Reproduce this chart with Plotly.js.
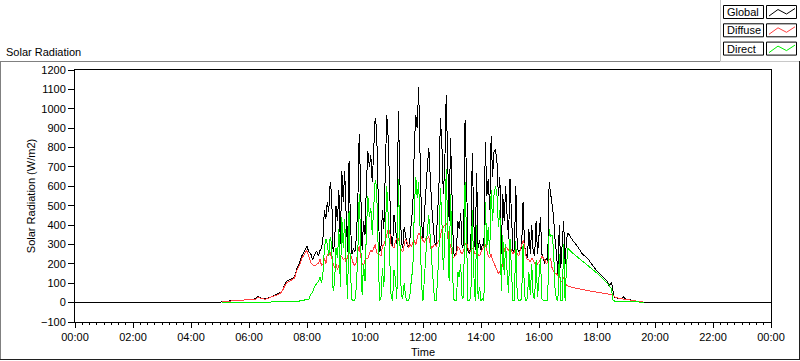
<!DOCTYPE html>
<html>
<head>
<meta charset="utf-8">
<script src="https://cdn.plot.ly/plotly-3.0.1.min.js"></script>
<style>
html,body{margin:0;padding:0;background:#fff;}
#chart{width:800px;height:361px;}
#chart .scatterlayer path.js-line{shape-rendering:crispEdges;}
</style>
</head>
<body>
<div id="chart"></div>
<script>
// ---- data (minutes of day, W/m2) ----
const morningMin = [305,320,335,350,365,374,379,385,395,405,412,420,427,432,437,442,448,454,459,464,469,473,477,480,484,488,492,496,500,504,507];
const dayMin = [510,513,516,519,522,525,528,531,534,537,540,543,546,549,552,555,558,561,564,567,570,573,576,579,582,585,588,591,594,597,600,603,606,609,612,615,618,621,624,627,630,633,636,639,642,645,648,651,
654,657,660,663,666,669,672,675,678,681,684,687,690,693,696,699,702,705,708,711,714,717,720,723,726,729,732,735,738,741,744,747,750,753,756,759,762,765,768,771,774,777,780,783,786,
789,792,795,798,801,804,807,810,813,816,819,822,825,828,831,834,837,840,843,846,849,852,855,858,861,864,867,870,873,876,879,882,885,888,891,894,897,900,903,906,909,912,915,918,
921,924,927,930,933,936,939,942,945,948,951,954,957,960,963,966,969,972,975,978,981,984,987,990,993,996,999,1002,1005,1008,1011,1014,1017,1020];
const eveningMin = [1030,1040,1050,1060,1070,1080,1090,1100,1105,1110,1113,1116,1120,1125,1130,1135,1140,1150,1160,1170,1178];
const nightStartMin = [0,300];
const nightEndMin = [1185,1440];

const globalMorning = [6,8,10,12,16,20,32,22,20,28,38,45,55,80,110,115,122,130,175,200,240,260,280,290,260,250,220,250,265,240,270];
const diffuseMorning = [5,8,10,12,15,18,28,20,18,26,35,42,52,75,100,108,115,125,165,190,225,245,262,268,235,205,195,190,198,205,225];
const directMorning = [0,0,0,0,0,0,0,0,3,3,4,4,5,5,5,5,5,6,6,8,10,15,15,18,18,45,55,85,100,110,130];

const globalDay = [280,330,480,430,520,470,620,560,260,300,500,420,580,300,680,520,680,450,260,730,400,250,280,260,330,500,870,600,270,420,350,620,780,700,760,620,780,950,900,500,260,280,480,380,700,970,850,600,
330,290,450,400,300,990,700,320,280,390,350,300,280,330,420,500,800,970,900,1110,750,420,330,450,630,700,800,620,500,400,310,300,420,600,950,820,560,700,1070,800,420,850,500,260,240,
260,420,380,460,280,300,940,650,270,250,300,770,420,270,670,280,320,270,300,290,830,550,640,480,860,650,780,790,730,550,650,250,560,420,600,450,330,640,450,270,260,600,280,260,
270,280,520,300,250,230,380,250,400,260,240,420,250,370,440,250,220,200,230,210,620,560,520,450,330,260,150,400,180,300,420,200,330,360];
const diffuseDay = [190,200,230,200,250,240,260,230,200,180,200,170,190,230,240,220,230,210,240,260,250,220,200,190,210,260,290,240,200,190,220,230,230,250,270,260,280,300,260,250,250,240,290,300,320,360,380,370,
300,290,280,320,330,330,300,270,260,290,330,310,280,300,290,310,320,300,340,360,350,330,320,310,330,330,340,300,280,290,300,290,310,320,340,380,390,400,410,390,310,300,250,230,240,
250,290,280,260,250,270,300,310,290,260,270,280,270,250,260,250,240,260,280,290,300,270,240,230,250,220,200,180,170,150,160,170,200,270,290,280,270,290,270,250,260,280,250,240,
270,300,320,300,240,220,220,210,230,220,200,210,200,210,220,240,230,220,200,210,220,230,180,160,150,150,140,140,110,110,130,110,90,85];
const directDay = [100,150,280,330,300,240,340,300,60,100,280,230,380,80,440,280,430,200,20,470,150,15,10,10,80,240,560,330,40,200,110,380,550,440,490,350,480,630,600,230,10,20,180,80,360,600,450,230,
30,10,170,120,20,640,380,40,20,100,30,10,10,40,120,180,470,650,540,620,380,90,10,140,290,370,450,310,220,110,10,10,110,270,590,430,170,290,690,400,110,560,250,20,10,
10,160,130,200,20,30,620,350,10,10,30,480,150,10,400,20,80,10,20,10,520,280,390,250,580,420,560,600,560,390,480,60,350,140,300,160,50,330,160,10,10,320,30,10,
10,20,300,40,10,20,160,40,200,30,20,220,30,160,230,20,10,10,10,10,380,340,350,280,80,20,10,250,10,10,300,10,200,280];

const globalEvening = [320,289,250,230,199,162,139,113,88,104,62,27,24,20,20,30,15,14,8,2,0];
const diffuseEvening = [78,72,68,62,58,54,50,47,45,42,40,30,25,22,20,18,15,12,8,4,2];
const directEvening = [255,235,215,195,175,152,128,105,90,70,15,8,8,6,5,8,6,3,5,2,0];

const globalNight = [0,0];

const seriesNames = ['Global','Diffuse','Direct'];
const seriesColors = ['#000000','#ff4040','#00f000'];
const yTickVals = [-100,0,100,200,300,400,500,600,700,800,900,1000,1100,1200];

// ---- build traces ----
const T0 = Date.UTC(2000,0,1);
const toDate = m => T0 + m*60000;
const dayTimes = morningMin.concat(dayMin, eveningMin);
const gTimes = nightStartMin.concat(dayTimes, nightEndMin).map(toDate);
const gVals = globalNight.concat(globalMorning, globalDay, globalEvening, globalNight);
const dTimes = dayTimes.map(toDate);
const difVals = diffuseMorning.concat(diffuseDay, diffuseEvening);
const dirVals = directMorning.concat(directDay, directEvening);

const traces = [
  {x:gTimes, y:gVals, name:seriesNames[0], mode:'lines', line:{color:seriesColors[0], width:1}, hoverinfo:'skip'},
  {x:dTimes, y:difVals, name:seriesNames[1], mode:'lines', line:{color:seriesColors[1], width:1}, hoverinfo:'skip'},
  {x:dTimes, y:dirVals, name:seriesNames[2], mode:'lines', line:{color:seriesColors[2], width:1}, hoverinfo:'skip'}
];

// ---- pixel helpers for decorations ----
const L=75, R=771, TOP=70, BOT=322;
const px = x => (x-L)/(R-L);
const py = y => (BOT-y)/(BOT-TOP);
const FONT = 'Liberation Sans, Arial, sans-serif';

const shapes = [];
const annotations = [];
function line(x0,y0,x1,y1,color){
  shapes.push({type:'line', xref:'paper', yref:'paper', x0:px(x0), y0:py(y0), x1:px(x1), y1:py(y1), line:{color:color, width:1}});
}
function rect(x0,y0,x1,y1,color){
  shapes.push({type:'rect', xref:'paper', yref:'paper', x0:px(x0), y0:py(y0), x1:px(x1), y1:py(y1), line:{color:color, width:1}, fillcolor:'rgba(255,255,255,0)'});
}
// outer frame
line(0,61.5,720,61.5,'#808080');
line(720,61.5,800,61.5,'#c8c8c8');
line(0.5,61.5,0.5,360,'#808080');
line(0,359.5,800,359.5,'#202020');
line(799.5,61,799.5,360,'#202020');
line(720.5,0,720.5,61.5,'#c8c8c8');

// legend
seriesNames.forEach((nm,i)=>{
  const off = i*18.3;
  rect(723.5,5.5+off,763.5,18.5+off,'#000000');
  rect(766.5,5.5+off,796.5,18.5+off,'#000000');
  const path = 'M '+px(769)+' '+py(16+off)+' L '+px(778)+' '+py(9.5+off)+' L '+px(786.5)+' '+py(14+off)+' L '+px(795)+' '+py(8.5+off);
  shapes.push({type:'path', xref:'paper', yref:'paper', path:path, line:{color:seriesColors[i], width:1}});
  annotations.push({xref:'paper', yref:'paper', x:px(725), y:py(12+off), xanchor:'left', yanchor:'middle', text:nm, showarrow:false, font:{family:FONT, size:11, color:'#000'}});
});
annotations.push({xref:'paper', yref:'paper', x:px(4), y:py(52), xanchor:'left', yanchor:'middle', text:'Solar Radiation', showarrow:false, font:{family:FONT, size:11, color:'#000'}});

const layout = {
  width:800, height:361,
  margin:{l:L, r:800-R, t:TOP, b:361-BOT},
  paper_bgcolor:'#ffffff', plot_bgcolor:'#ffffff',
  showlegend:false,
  font:{family:FONT, size:11, color:'#000'},
  xaxis:{
    type:'date',
    range:['2000-01-01 00:00','2000-01-02 00:00'],
    tick0:'2000-01-01 00:00', dtick:7200000, tickformat:'%H:%M',
    ticks:'outside', ticklen:5, tickcolor:'#000', tickwidth:1,
    minor:{dtick:900000, ticks:'outside', ticklen:2, tickcolor:'#000', showgrid:false},
    showgrid:false, zeroline:false,
    showline:true, linecolor:'#000', linewidth:1, mirror:true,
    title:{text:'Time', standoff:6, font:{family:FONT, size:11}},
    tickfont:{family:FONT, size:11}
  },
  yaxis:{
    range:[-100,1200], tickvals:yTickVals,
    ticks:'outside', ticklen:6, tickcolor:'#000', tickwidth:1,
    showgrid:false, zeroline:false,
    showline:true, linecolor:'#000', linewidth:1, mirror:true,
    title:{text:'Solar Radiation (W/m2)', standoff:3, font:{family:FONT, size:11}},
    tickfont:{family:FONT, size:11}
  },
  shapes:shapes,
  annotations:annotations
};

Plotly.newPlot('chart', traces, layout, {staticPlot:true, displayModeBar:false});
</script>
</body>
</html>
